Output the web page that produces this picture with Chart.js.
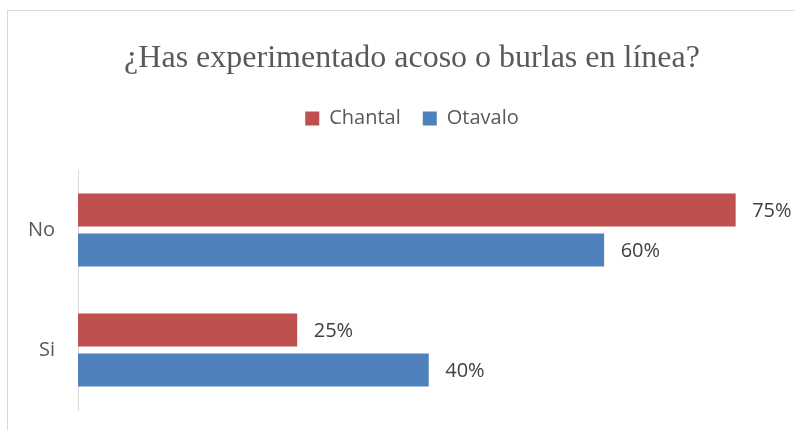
<!DOCTYPE html>
<html>
<head>
<meta charset="utf-8">
<script src="https://cdn.jsdelivr.net/npm/chart.js@4"></script>
<style>
  html, body { margin: 0; padding: 0; background: #fff; overflow: hidden; }
  #wrap { position: relative; width: 795px; height: 430px; }
  #frame { position: absolute; left: 7px; top: 10px; width: 900px; height: 500px;
           border: 1px solid #d9d9d9; pointer-events: none; }
  canvas { position: absolute; left: 0; top: 0; }
</style>
</head>
<body>
<div id="wrap">
  <div id="frame"></div>
  <canvas id="chart" width="795" height="430"></canvas>
</div>
<script>
// datos del gráfico
const categorias = ['No', 'Si'];
const series = ['Chantal', 'Otavalo'];
const chantal = [75, 25];
const otavalo = [60, 40];
const titulo = '¿Has experimentado acoso o burlas en línea?';

const gris = '#595959';

// etiquetas de valor al final de cada barra
const etiquetas = {
  id: 'etiquetas',
  afterDatasetsDraw(chart) {
    const ctx = chart.ctx;
    ctx.save();
    ctx.font = '20px "Open Sans"';
    ctx.fillStyle = '#404040';
    ctx.textAlign = 'left';
    ctx.textBaseline = 'middle';
    chart.data.datasets.forEach((ds, i) => {
      chart.getDatasetMeta(i).data.forEach((bar, j) => {
        ctx.fillText(ds.data[j] + '%', bar.x + 16.5, bar.y + 1.5);
      });
    });
    ctx.restore();
  }
};

// altura fija de la leyenda y título/leyenda centrados sobre el marco completo
const ajusteCajas = {
  id: 'ajusteCajas',
  beforeLayout(chart) {
    const lg = chart.legend;
    if (lg && !lg._parcheado) {
      const fit = lg.fit;
      lg.fit = function () { fit.call(this); this.height = 83.6; };
      lg._parcheado = true;
    }
  },
  afterLayout(chart) {
    if (chart.titleBlock) chart.titleBlock.left = 44.5;
    if (chart.legend) chart.legend.left = 44.5;
  }
};

new Chart(document.getElementById('chart'), {
  type: 'bar',
  data: {
    labels: categorias,
    datasets: [
      { label: series[0], data: chantal, backgroundColor: '#c0504d' },
      { label: series[1], data: otavalo, backgroundColor: '#4f81bd' }
    ]
  },
  options: {
    indexAxis: 'y',
    responsive: false,
    animation: false,
    categoryPercentage: 0.667,
    barPercentage: 0.825,
    layout: { padding: { left: 0, right: 15.5, top: 0, bottom: 20 } },
    scales: {
      x: { display: false, min: 0, max: 80 },
      y: {
        grid: { display: false },
        border: { display: true, color: '#d9d9d9', width: 1 },
        ticks: { color: gris, padding: 15, font: { family: '"Open Sans"', size: 20 } },
        afterFit(s) { s.width = 78; s.paddingTop = 0; s.paddingBottom = 0; }
      }
    },
    plugins: {
      title: {
        display: true,
        text: titulo,
        color: gris,
        font: { family: '"Liberation Serif"', size: 32, weight: 'normal' },
        padding: { top: 39.3, bottom: 8.7 }
      },
      legend: {
        position: 'top',
        labels: {
          color: gris,
          boxWidth: 14,
          boxHeight: 14,
          padding: 22,
          font: { family: '"Open Sans"', size: 20 }
        }
      },
      tooltip: { enabled: false }
    }
  },
  plugins: [etiquetas, ajusteCajas]
});
</script>
</body>
</html>
